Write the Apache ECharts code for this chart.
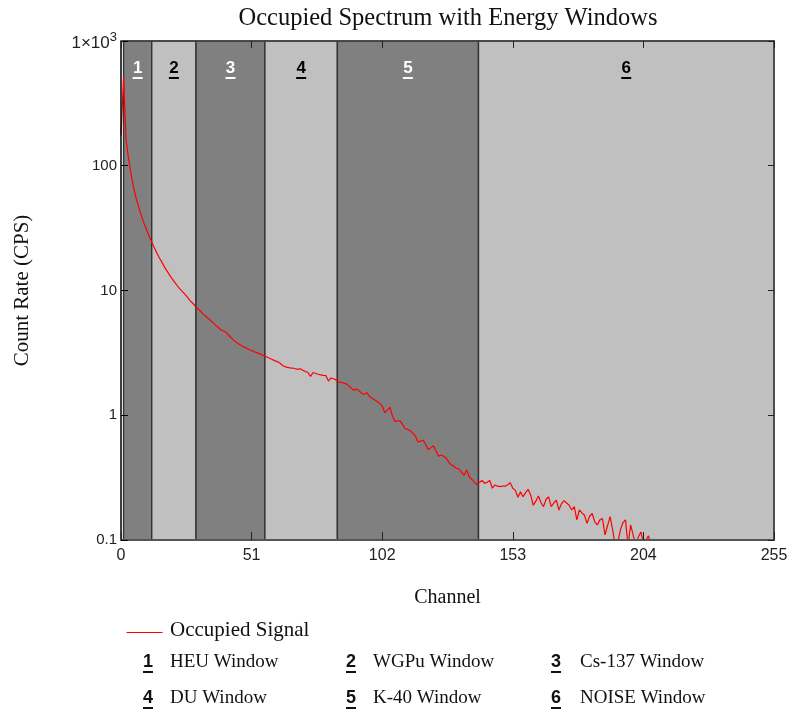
<!DOCTYPE html>
<html>
<head>
<meta charset="utf-8">
<script src="https://cdn.jsdelivr.net/npm/echarts@6/dist/echarts.min.js"></script>
<style>
  html, body { margin: 0; padding: 0; background: #fff; }
  #chart { width: 792px; height: 713px; }
</style>
</head>
<body>
<div id="chart"></div>
<script>
// Spectrum: count rate per channel (channel index = array position)
const countRate = [
  175, 520, 160, 112, 84, 66, 54, 46, 39.5, 34.5,
  30.5, 27.2, 24.5, 22, 20, 18.2, 16.8, 15.4, 14.3, 13.3,
  12.4, 11.6, 10.9, 10.3, 9.8, 9.3, 8.8, 8.3, 7.9, 7.5,
  7.15, 6.85, 6.5, 6.25, 6.0, 5.75, 5.5, 5.25, 5.05, 4.85,
  4.75, 4.62, 4.4, 4.18, 4.0, 3.85, 3.72, 3.62, 3.52, 3.45,
  3.37, 3.3, 3.23, 3.18, 3.12, 3.05, 2.99, 2.93, 2.86, 2.8,
  2.74, 2.69, 2.62, 2.52, 2.45, 2.42, 2.4, 2.39, 2.36, 2.33,
  2.36, 2.29, 2.24, 2.2, 2.05, 2.2, 2.16, 2.13, 2.11, 2.09,
  2.08, 1.88, 1.99, 1.96, 1.92, 1.85, 1.83, 1.81, 1.78, 1.72,
  1.64, 1.59, 1.62, 1.57, 1.5, 1.47, 1.52, 1.42, 1.37, 1.33,
  1.29, 1.25, 1.19, 1.05, 1.1, 1.16, 0.99, 0.89, 0.9, 0.9,
  0.84, 0.78, 0.77, 0.75, 0.72, 0.68, 0.61, 0.62, 0.63, 0.58,
  0.53, 0.55, 0.57, 0.52, 0.47, 0.48, 0.47, 0.455, 0.42, 0.4,
  0.39, 0.376, 0.37, 0.35, 0.33, 0.364, 0.32, 0.307, 0.29, 0.279,
  0.29, 0.3, 0.285, 0.29, 0.3, 0.26, 0.276, 0.27, 0.268, 0.271,
  0.27, 0.277, 0.288, 0.26, 0.25, 0.22, 0.244, 0.222, 0.24, 0.255,
  0.228, 0.19, 0.205, 0.225, 0.2, 0.185, 0.212, 0.222, 0.185, 0.198,
  0.209, 0.174, 0.195, 0.207, 0.198, 0.19, 0.174, 0.185, 0.145, 0.174,
  0.165, 0.158, 0.136, 0.155, 0.163, 0.14, 0.132, 0.145, 0.149, 0.11,
  0.13, 0.154, 0.12, 0.09, 0.095, 0.12, 0.138, 0.145, 0.09, 0.132,
  0.11, 0.09, 0.105, 0.116, 0.095, 0.1, 0.108, 0.09
];

// Energy windows (channel ranges)
const winStart = [1, 12, 29.3, 56.2, 84.5, 139.6];
const winEnd   = [12, 29.3, 56.2, 84.5, 139.6, 255];
const winNum   = ['1', '2', '3', '4', '5', '6'];
const winName  = ['HEU Window', 'WGPu Window', 'Cs-137 Window', 'DU Window', 'K-40 Window', 'NOISE Window'];
const winShade = ['dark', 'light', 'dark', 'light', 'dark', 'light'];

// Axes
const xMin = 0, xMax = 255, xStep = 51;
const yMin = 0.1, yMax = 1000;
const yTickLabels = { '0.1': '0.1', '1': '1', '10': '10', '100': '100', '1000': '{b|1×10}{s|3}' };

const seriesName = 'Occupied Signal';
const SERIF = '"Liberation Serif", "Times New Roman", serif';
const SANS = '"Liberation Sans", Arial, sans-serif';

const DARK = '#808080', LIGHT = '#c0c0c0';

function renderWindow(params, api) {
  const i = api.value(3);
  const p0 = api.coord([api.value(0), yMax]);
  const p1 = api.coord([api.value(1), yMin]);
  const dark = winShade[i] === 'dark';
  const cx = (p0[0] + p1[0]) / 2;
  const ink = dark ? '#ffffff' : '#000000';
  return {
    type: 'group',
    children: [
      {
        type: 'rect',
        shape: { x: p0[0], y: p0[1], width: p1[0] - p0[0], height: p1[1] - p0[1] },
        style: { fill: dark ? DARK : LIGHT, stroke: '#333333', lineWidth: 1.4 }
      },
      {
        type: 'text',
        x: cx, y: p0[1] + 27,
        style: {
          text: winNum[i], fill: ink, font: 'bold 17px ' + SANS,
          align: 'center', verticalAlign: 'middle'
        }
      },
      {
        type: 'rect',
        shape: { x: cx - 5, y: p0[1] + 36, width: 10, height: 2 },
        style: { fill: ink }
      }
    ]
  };
}

// Legend block below the plot
const legendGraphics = [];
legendGraphics.push({
  type: 'line', left: 124, top: 630,
  shape: { x1: 0, y1: 0, x2: 36, y2: 0 },
  style: { stroke: '#ff0000', lineWidth: 1.2 }
});
legendGraphics.push({
  type: 'text', x: 170, y: 630,
  style: { text: seriesName, fill: '#111', font: '21px ' + SERIF, align: 'left', verticalAlign: 'middle' }
});
const colNum = [148, 351, 556];
const colText = [170, 373, 580];
const rowY = [662, 698];
for (let i = 0; i < winNum.length; i++) {
  const r = Math.floor(i / 3), c = i % 3;
  legendGraphics.push({
    type: 'text', x: colNum[c], y: rowY[r],
    style: { text: winNum[i], fill: '#111', font: 'bold 18px ' + SANS, align: 'center', verticalAlign: 'middle' }
  });
  legendGraphics.push({
    type: 'rect', shape: { x: colNum[c] - 5, y: rowY[r] + 9, width: 10, height: 2 },
    style: { fill: '#111' }
  });
  legendGraphics.push({
    type: 'text', x: colText[c], y: rowY[r],
    style: { text: winName[i], fill: '#111', font: '19px ' + SERIF, align: 'left', verticalAlign: 'middle' }
  });
}

const chart = echarts.init(document.getElementById('chart'), null, { renderer: 'canvas' });

chart.setOption({
  animation: false,
  backgroundColor: '#ffffff',
  title: {
    text: 'Occupied Spectrum with Energy Windows',
    left: 443, top: 1, textAlign: 'center',
    textStyle: { fontFamily: SERIF, fontWeight: 'normal', fontSize: 24.5, color: '#111' }
  },
  grid: { left: 121, right: 18, top: 41, bottom: 173, containLabel: false },
  xAxis: [
    {
      type: 'value', min: xMin, max: xMax, interval: xStep, position: 'bottom', z: 5,
      name: 'Channel', nameLocation: 'middle', nameGap: 48,
      nameTextStyle: { fontFamily: SERIF, fontSize: 20, color: '#111' },
      axisLine: { show: true, onZero: false, lineStyle: { color: '#555', width: 2 } },
      axisTick: { show: true, inside: true, length: 8, lineStyle: { color: '#222', width: 1 } },
      axisLabel: { fontFamily: SANS, fontSize: 16, color: '#222', margin: 8 },
      splitLine: { show: false }
    },
    {
      type: 'value', min: xMin, max: xMax, interval: xStep, position: 'top', z: 5,
      axisLine: { show: true, onZero: false, lineStyle: { color: '#444', width: 1.5 } },
      axisTick: { show: true, inside: true, length: 7, lineStyle: { color: '#222', width: 1 } },
      axisLabel: { show: false },
      splitLine: { show: false }
    }
  ],
  yAxis: [
    {
      type: 'log', logBase: 10, min: yMin, max: yMax, position: 'left', z: 5,
      name: 'Count Rate (CPS)', nameLocation: 'middle', nameGap: 88, nameRotate: 90,
      nameTextStyle: { fontFamily: SERIF, fontSize: 21, color: '#111' },
      axisLine: { show: true, onZero: false, lineStyle: { color: '#000', width: 1.5 } },
      axisTick: { show: true, inside: true, length: 7, lineStyle: { color: '#000', width: 1 } },
      minorTick: { show: false },
      axisLabel: {
        fontFamily: SANS, fontSize: 15, color: '#222', margin: 4,
        formatter: function (v) {
          const key = String(Math.round(Math.log10(v)) >= 0 ? Math.round(v) : 0.1);
          return yTickLabels[key] !== undefined ? yTickLabels[key] : '';
        },
        rich: {
          b: { fontFamily: SANS, fontSize: 17, color: '#222', padding: [4, 0, 0, 0] },
          s: { fontFamily: SANS, fontSize: 13, color: '#222', padding: [0, 0, 8, 0] }
        }
      },
      splitLine: { show: false }
    },
    {
      type: 'log', logBase: 10, min: yMin, max: yMax, position: 'right', z: 5,
      axisLine: { show: true, onZero: false, lineStyle: { color: '#444', width: 1.5 } },
      axisTick: { show: true, inside: true, length: 6, lineStyle: { color: '#222', width: 1 } },
      minorTick: { show: false },
      axisLabel: { show: false },
      splitLine: { show: false }
    }
  ],
  series: [
    {
      type: 'custom',
      name: 'windows',
      xAxisIndex: 0, yAxisIndex: 0,
      z: 1,
      silent: true,
      renderItem: renderWindow,
      encode: { x: [0, 1], y: 2 },
      data: winStart.map((s, i) => [s, winEnd[i], 1, i])
    },
    {
      type: 'line',
      name: seriesName,
      xAxisIndex: 0, yAxisIndex: 0,
      z: 3,
      symbol: 'none',
      clip: true,
      lineStyle: { color: '#ff0000', width: 1.2 },
      data: countRate.map((v, i) => [i, v])
    }
  ],
  graphic: legendGraphics
});
</script>
</body>
</html>
